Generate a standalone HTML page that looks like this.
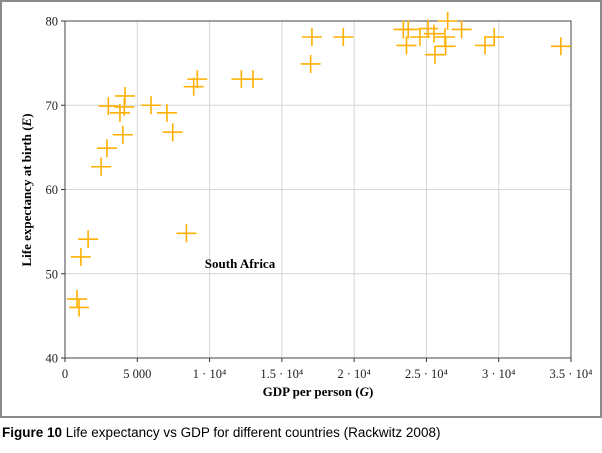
<!DOCTYPE html>
<html><head><meta charset="utf-8"><style>
body{margin:0;background:#fff;width:602px;height:453px;overflow:hidden}
svg{display:block}
</style></head><body>
<svg id="chart" width="602" height="453" xmlns="http://www.w3.org/2000/svg">
<rect x="1" y="1" width="600" height="416" fill="none" stroke="#8a8a8a" stroke-width="2"/>
<g id="grid"></g>
<g id="axes"></g>
<g id="marks"></g>
<text x="240" y="268" font-family="'Liberation Serif',serif" font-weight="bold" font-size="13" text-anchor="middle">South Africa</text>
<text x="318" y="396" font-family="'Liberation Serif',serif" font-weight="bold" font-size="13" text-anchor="middle">GDP per person (<tspan font-style="italic">G</tspan>)</text>
<text transform="translate(31,190) rotate(-90)" font-family="'Liberation Serif',serif" font-weight="bold" font-size="13" text-anchor="middle">Life expectancy at birth (<tspan font-style="italic">E</tspan>)</text>
<text x="2" y="437" font-family="'Liberation Sans',sans-serif" font-size="13.5"><tspan font-weight="bold">Figure 10</tspan> Life expectancy vs GDP for different countries (Rackwitz 2008)</text>
</svg>
<script>
const gdp = [830,970,1100,1600,2500,2900,3000,3800,4100,4000,4150,5950,7050,7450,8400,8900,9150,12200,13000,17080,16990,19250,23400,23740,23620,24550,25120,25520,25590,26280,26330,26470,27430,29050,29690,34300];
const lifeExp = [47.0,46.0,52.0,54.1,62.7,64.9,69.9,69.1,69.8,66.5,71.1,70.0,69.1,66.8,54.8,72.2,73.1,73.1,73.1,78.1,74.9,78.1,79.0,79.0,77.1,78.1,79.1,78.5,76.0,78.1,77.0,80.0,79.0,77.1,78.1,77.0];
const xTicks = [0,5000,10000,15000,20000,25000,30000,35000];
const xTickLabels = ["0","5 000","1 · 10⁴","1.5 · 10⁴","2 · 10⁴","2.5 · 10⁴","3 · 10⁴","3.5 · 10⁴"];
const yTicks = [40,50,60,70,80];

const X0=65,X1=571,Y0=358,Y1=21;
const xs=v=>X0+(v-0)/35000*(X1-X0);
const ys=v=>Y0-(v-40)/40*(Y0-Y1);
const NS="http://www.w3.org/2000/svg";
function mk(tag,attrs,parent){const e=document.createElementNS(NS,tag);for(const k in attrs)e.setAttribute(k,attrs[k]);parent.appendChild(e);return e;}
const grid=document.getElementById('grid'),axes=document.getElementById('axes'),marks=document.getElementById('marks');
xTicks.forEach((t,i)=>{
  const x=xs(t);
  if(i>0&&i<xTicks.length-1){const g=mk('line',{x1:x,x2:x,y1:Y1,y2:Y0,stroke:'#d6d6d6','stroke-width':1},grid);
  
  }
  const tk=mk('line',{x1:x,x2:x,y1:Y0,y2:Y0+4,stroke:'#333','stroke-width':1},axes);
  
  
  const tx=mk('text',{x:x,y:378,'font-family':"'Liberation Serif',serif",'font-size':'12.5','text-anchor':'middle',fill:'#222'},axes);
  tx.textContent=xTickLabels[i];
  
  
});
yTicks.forEach((t,i)=>{
  const y=ys(t);
  if(i>0&&i<yTicks.length-1){const g=mk('line',{x1:X0,x2:X1,y1:y,y2:y,stroke:'#d6d6d6','stroke-width':1},grid);
  
  }
  const tk=mk('line',{x1:X0-4,x2:X0,y1:y,y2:y,stroke:'#333','stroke-width':1},axes);
  
  
  const tx=mk('text',{x:X0-7,y:y+4.5,'font-family':"'Liberation Serif',serif",'font-size':'12.5','text-anchor':'end',fill:'#222'},axes);
  tx.textContent=String(t);
  
  
});
const frame=mk('rect',{x:X0,y:Y1,width:X1-X0,height:Y0-Y1,fill:'none',stroke:'#444','stroke-width':1},axes);


gdp.forEach((g,i)=>{
  const x=xs(g),y=ys(lifeExp[i]);
  const p=mk('path',{d:`M${x-10},${y}H${x+10}M${x},${y-9}V${y+9}`,stroke:'#ffb000','stroke-width':1.6,fill:'none'},marks);
  
  
});
</script>
</body></html>
